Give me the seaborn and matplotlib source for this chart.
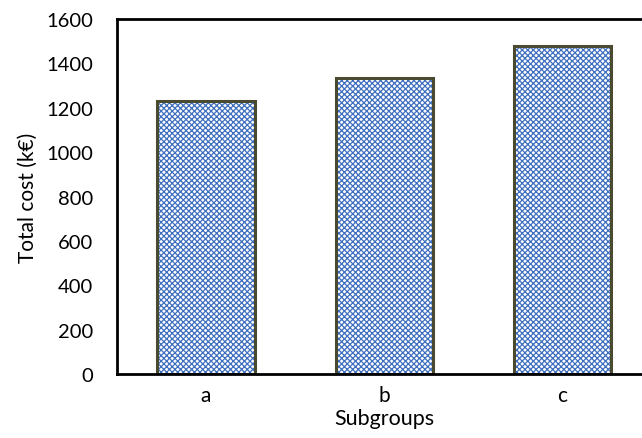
import matplotlib
matplotlib.use("Agg")
import matplotlib.pyplot as plt
import seaborn as sns
import pandas as pd

# Data
subgroups = ["a", "b", "c"]
total_cost = [1230, 1335, 1480]
y_ticks = [0, 200, 400, 600, 800, 1000, 1200, 1400, 1600]

sns.set_theme(style="white")
plt.rcParams["font.family"] = ["Lato", "DejaVu Sans"]
plt.rcParams["hatch.linewidth"] = 0.9

df = pd.DataFrame({"Subgroups": subgroups, "Total cost": total_cost})

fig = plt.figure(figsize=(6.42, 4.39), dpi=100)
ax = fig.add_axes([0.1822, 0.1458, 0.832, 0.8086])

# Patterned fill (blue checker hatch)
sns.barplot(data=df, x="Subgroups", y="Total cost", ax=ax, color="white",
            edgecolor="#3f6fbf", linewidth=0, width=0.545, hatch="xxxxxx",
            errorbar=None)
# Dark outline on top of the fill
sns.barplot(data=df, x="Subgroups", y="Total cost", ax=ax, fill=False,
            edgecolor="#4a4a30", linewidth=2.2, width=0.545, errorbar=None)

ax.set_xlim(-0.5, 2.5)
ax.set_ylim(0, 1600)
ax.set_yticks(y_ticks)
ax.set_yticklabels([str(v) for v in y_ticks])

ax.tick_params(axis="y", length=0, pad=17, labelsize=14.5, labelcolor="black")
ax.tick_params(axis="x", length=0, pad=8, labelsize=15, labelcolor="black")

ax.set_xlabel("Subgroups", fontsize=15.5, color="black", labelpad=2)
ax.set_ylabel("Total cost (k€)", fontsize=15, color="black", labelpad=6)

for side in ["left", "bottom", "top", "right"]:
    ax.spines[side].set_visible(True)
    ax.spines[side].set_color("black")
    ax.spines[side].set_linewidth(2)

fig.savefig("out.png", dpi=100, facecolor="white")
